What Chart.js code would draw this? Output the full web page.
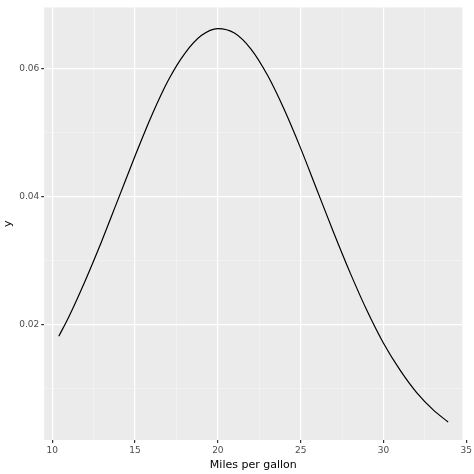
<!DOCTYPE html>
<html><head>
<script src="https://cdn.jsdelivr.net/npm/chart.js"></script>
<style>body{margin:0;background:#fff}</style>
</head><body>
<canvas id="c" width="474" height="474"></canvas>
<script>
// values
const mpg = [10.4, 11, 12, 13, 14, 15, 16, 17, 18, 19, 20, 21, 22, 23, 24, 25, 26, 27, 28, 29, 30, 31, 32, 33, 33.9];
const density = [0.0182, 0.0212, 0.0269, 0.0331, 0.0397, 0.0463, 0.0526, 0.0581, 0.0623, 0.0651, 0.0662, 0.0655, 0.0630, 0.0589, 0.0536, 0.0475, 0.0409, 0.0343, 0.0280, 0.0222, 0.0171, 0.0129, 0.0094, 0.0067, 0.0048];
const xTicks = [10, 12.5, 15, 17.5, 20, 22.5, 25, 27.5, 30, 32.5, 35];
const yTicks = [0.01, 0.02, 0.03, 0.04, 0.05, 0.06];

const panelBg = {
  id: 'panelBg',
  beforeDraw(chart) {
    const a = chart.chartArea, ctx = chart.ctx;
    ctx.save(); ctx.fillStyle = '#EBEBEB';
    ctx.fillRect(a.left, a.top, a.right - a.left, a.bottom - a.top);
    ctx.restore();
  }
};
const major = v => Math.abs(v * 100 - Math.round(v * 100)) < 1e-6 && Math.round(v * 100) % 2 === 0;

new Chart(document.getElementById('c'), {
  type: 'line',
  data: { datasets: [{ data: mpg.map((x, i) => ({ x, y: density[i] })), borderColor: '#000', borderWidth: 1.2, pointRadius: 0, cubicInterpolationMode: 'monotone', fill: false }] },
  options: {
    responsive: false, animation: false, devicePixelRatio: 1,
    layout: { padding: { top: 5, right: 8, left: 0, bottom: 0 } },
    plugins: { legend: { display: false }, tooltip: { enabled: false } },
    scales: {
      x: {
        type: 'linear', min: 9.52, max: 34.76,
        afterBuildTicks: s => { s.ticks = xTicks.map(v => ({ value: v })); },
        ticks: { autoSkip: false, maxRotation: 0, color: '#4D4D4D', font: { size: 9, family: 'DejaVu Sans' }, padding: 2,
          callback: v => (v % 5 === 0 ? v : '') },
        grid: { color: c => (c.tick && c.tick.value % 5 === 0 ? '#FFFFFF' : '#F5F5F5'), lineWidth: c => (c.tick && c.tick.value % 5 === 0 ? 1.2 : 0.6),
          tickLength: 3, tickColor: c => (c.tick && c.tick.value % 5 === 0 ? '#333' : 'transparent') },
        border: { display: false },
        title: { display: true, text: 'Miles per gallon', color: '#000', font: { size: 11, family: 'DejaVu Sans' }, padding: { top: 1, bottom: 2 } }
      },
      y: {
        type: 'linear', min: 0.0020, max: 0.0695,
        afterBuildTicks: s => { s.ticks = yTicks.map(v => ({ value: v })); },
        ticks: { autoSkip: false, color: '#4D4D4D', font: { size: 9, family: 'DejaVu Sans' }, padding: 2,
          callback: v => (major(v) ? v.toFixed(2) : '') },
        grid: { color: c => (c.tick && major(c.tick.value) ? '#FFFFFF' : '#F5F5F5'), lineWidth: c => (c.tick && major(c.tick.value) ? 1.2 : 0.6),
          tickLength: 3, tickColor: c => (c.tick && major(c.tick.value) ? '#333' : 'transparent') },
        border: { display: false },
        title: { display: true, text: 'y', color: '#000', font: { size: 11, family: 'DejaVu Sans' }, padding: { top: 2, bottom: 2 } }
      }
    }
  },
  plugins: [panelBg]
});
</script>
</body></html>
